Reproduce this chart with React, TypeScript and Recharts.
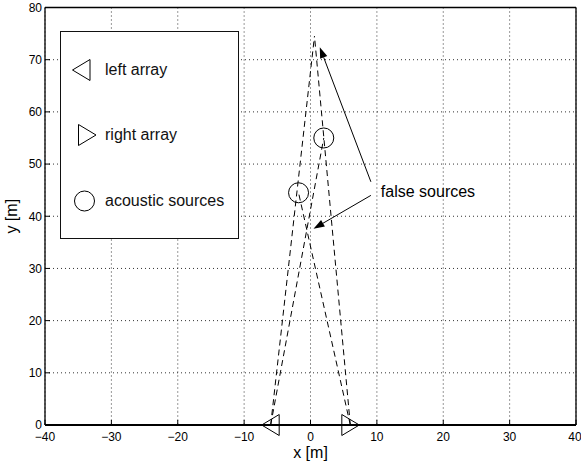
import React from "react";
import {
  ComposedChart,
  Scatter,
  XAxis,
  YAxis,
  CartesianGrid,
  ReferenceLine,
  ReferenceDot,
  Legend,
} from "recharts";

// Two microphone arrays on the ground, two real sources, and the two
// ghost intersections ("false sources") made by crossing bearing lines.

const X_TICKS = [-40, -30, -20, -10, 0, 10, 20, 30, 40];
const Y_TICKS = [0, 10, 20, 30, 40, 50, 60, 70, 80];

const LEFT_ARRAY = [{ x: -6, y: 0 }];
const RIGHT_ARRAY = [{ x: 6, y: 0 }];
const SOURCES = [
  { x: -1.8, y: 44.5 },
  { x: 2, y: 55 },
];

// bearing lines, from an array to the point where the line stops
const BEARINGS = [
  [{ x: -6, y: 0 }, { x: 0.6, y: 74.5 }],
  [{ x: -6, y: 0 }, { x: 2, y: 55 }],
  [{ x: 6, y: 0 }, { x: 0.6, y: 74.5 }],
  [{ x: 6, y: 0 }, { x: -1.8, y: 44.5 }],
];

const ARROWS = [
  { from: { x: 9.1, y: 46.6 }, to: { x: 1.4, y: 72.4 } },
  { from: { x: 9.1, y: 44.0 }, to: { x: 0.45, y: 37.6 } },
];

const NOTE = { x: 10.6, y: 44.8, text: "false sources" };

const LEGEND_ITEMS = [
  { kind: "left", label: "left array" },
  { kind: "right", label: "right array" },
  { kind: "circle", label: "acoustic sources" },
];

const INK = "#000";
const FONT = "'Liberation Sans', Arial, Helvetica, sans-serif";

function marker(kind: string, cx: number, cy: number) {
  if (kind === "left") {
    return (
      <polygon
        points={`${cx - 9},${cy} ${cx + 8.5},${cy - 10.5} ${cx + 8.5},${cy + 10.5}`}
        fill="none"
        stroke={INK}
        strokeWidth={1}
      />
    );
  }
  if (kind === "right") {
    return (
      <polygon
        points={`${cx + 9},${cy} ${cx - 8.5},${cy - 10.5} ${cx - 8.5},${cy + 10.5}`}
        fill="none"
        stroke={INK}
        strokeWidth={1}
      />
    );
  }
  return <circle cx={cx} cy={cy} r={10} fill="none" stroke={INK} strokeWidth={1} />;
}

const shapeFor = (kind: string) => (p: any) => <g>{marker(kind, p.cx, p.cy)}</g>;
const noShape = () => <g />;

function Arrow(p: any) {
  const { x1, y1, x2, y2 } = p;
  const a = Math.atan2(y2 - y1, x2 - x1);
  const len = 11;
  const half = 3.8;
  const bx = x2 - len * Math.cos(a);
  const by = y2 - len * Math.sin(a);
  const nx = -Math.sin(a) * half;
  const ny = Math.cos(a) * half;
  return (
    <g>
      <line x1={x1} y1={y1} x2={bx} y2={by} stroke={INK} strokeWidth={1} />
      <polygon points={`${x2},${y2} ${bx + nx},${by + ny} ${bx - nx},${by - ny}`} fill={INK} />
    </g>
  );
}

const ICON_X: Record<string, number> = { left: 20.5, right: 26, circle: 23.5 };

function LegendBox() {
  return (
    <div
      style={{
        boxSizing: "border-box",
        width: 179,
        height: 208,
        border: "1.5px solid #111",
        background: "#fff",
        position: "relative",
        fontFamily: FONT,
      }}
    >
      {LEGEND_ITEMS.map((item, i) => (
        <div
          key={item.label}
          style={{
            position: "absolute",
            left: 0,
            top: 25.5 + i * 65.8,
            height: 24,
            display: "flex",
            alignItems: "center",
            whiteSpace: "nowrap",
          }}
        >
          <svg width={44} height={24} style={{ overflow: "visible" }}>
            {marker(item.kind, ICON_X[item.kind], 12)}
          </svg>
          <span style={{ fontSize: 16, color: "#111" }}>{item.label}</span>
        </div>
      ))}
    </div>
  );
}

const renderYLabel = (props: any) => {
  const vb = props.viewBox;
  const cy = vb.y + vb.height / 2;
  return (
    <text
      x={17}
      y={cy}
      transform={`rotate(-90, 17, ${cy})`}
      textAnchor="middle"
      fontSize={16}
      fill={INK}
    >
      y [m]
    </text>
  );
};

const fmt = (v: number) => (v < 0 ? `\u2212${Math.abs(v)}` : `${v}`);

export default function App() {
  return (
    <div style={{ position: "absolute", left: 0, top: 0, fontFamily: FONT, background: "#fff" }}>
      <ComposedChart width={581} height={465} margin={{ top: 6.5, right: 4, bottom: 0, left: 0 }}>
        <CartesianGrid stroke="#333" strokeDasharray="1 3" strokeWidth={1} />
        <XAxis
          type="number"
          dataKey="x"
          domain={[-40, 40]}
          ticks={X_TICKS}
          tickFormatter={fmt}
          height={40}
          tickSize={-5}
          tickMargin={12.5}
          tick={{ fontSize: 12, fill: INK }}
          tickLine={{ stroke: INK }}
          axisLine={{ stroke: INK, strokeWidth: 2 }}
          label={{ value: "x [m]", position: "insideBottom", offset: 7.5, fontSize: 16, fill: INK }}
        />
        <XAxis
          xAxisId="top"
          orientation="top"
          type="number"
          domain={[-40, 40]}
          ticks={X_TICKS}
          height={1}
          tickSize={-5}
          tick={false}
          tickLine={{ stroke: INK }}
          axisLine={{ stroke: INK, strokeWidth: 1.3 }}
        />
        <YAxis
          type="number"
          dataKey="y"
          domain={[0, 80]}
          ticks={Y_TICKS}
          width={45}
          tickSize={-5}
          tickMargin={8}
          tick={{ fontSize: 12, fill: INK }}
          tickLine={{ stroke: INK }}
          axisLine={{ stroke: INK, strokeWidth: 1.3 }}
          label={{ content: renderYLabel }}
        />
        <YAxis
          yAxisId="right"
          orientation="right"
          type="number"
          domain={[0, 80]}
          ticks={Y_TICKS}
          width={1}
          tickSize={-5}
          tick={false}
          tickLine={{ stroke: INK }}
          axisLine={{ stroke: INK, strokeWidth: 1.3 }}
        />

        {BEARINGS.map((seg, i) => (
          <Scatter
            key={`b${i}`}
            data={seg}
            line={{ stroke: INK, strokeWidth: 1, strokeDasharray: "6 4" }}
            shape={noShape}
            legendType="none"
            isAnimationActive={false}
          />
        ))}

        <Scatter data={LEFT_ARRAY} shape={shapeFor("left")} isAnimationActive={false} />
        <Scatter data={RIGHT_ARRAY} shape={shapeFor("right")} isAnimationActive={false} />
        <Scatter data={SOURCES} shape={shapeFor("circle")} isAnimationActive={false} />

        {ARROWS.map((a, i) => (
          <ReferenceLine key={`a${i}`} segment={[a.from, a.to]} shape={Arrow} stroke={INK} />
        ))}

        <ReferenceDot
          x={NOTE.x}
          y={NOTE.y}
          r={0}
          stroke="none"
          fill="none"
          label={{ value: NOTE.text, position: "right", offset: 0, fontSize: 16, fill: INK }}
        />

        <Legend
          layout="horizontal"
          align="center"
          verticalAlign="middle"
          wrapperStyle={{ left: 60, top: 31, width: 179, height: 208 }}
          content={() => <LegendBox />}
        />
      </ComposedChart>
    </div>
  );
}
